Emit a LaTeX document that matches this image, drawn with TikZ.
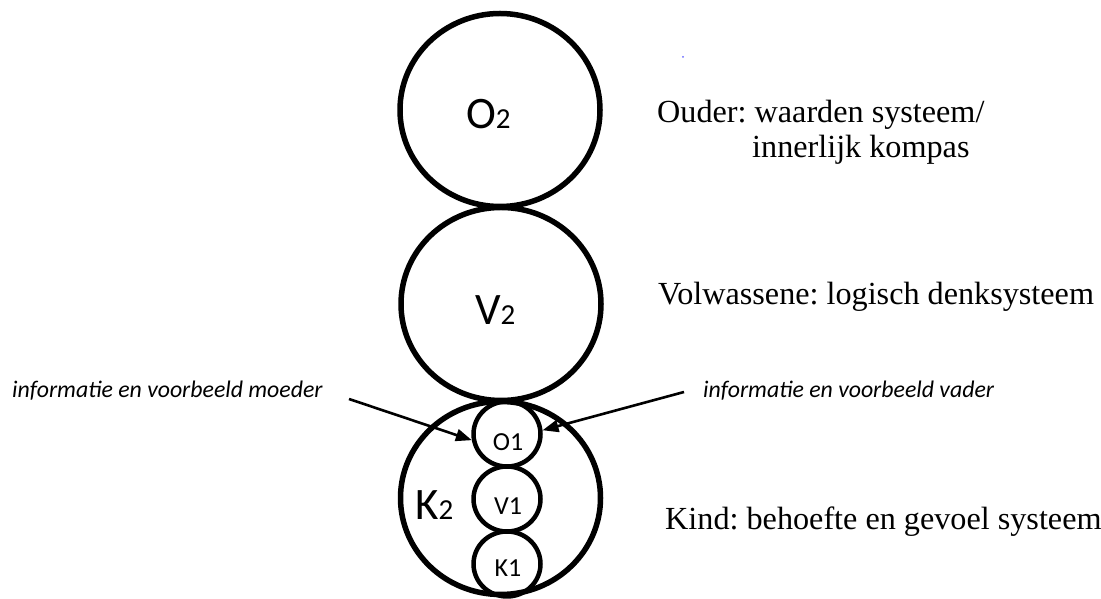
\documentclass[tikz,border=0pt]{standalone}
\usepackage{fontspec}
\usetikzlibrary{shapes.geometric,arrows.meta}
\newfontfamily\tnrfont{Liberation Serif}
\newfontfamily\calfont{Carlito}
\frenchspacing
\begin{document}
\begin{tikzpicture}[x=1pt,y=1pt,
  bigc/.style={ellipse,draw,line width=5.5pt,minimum width=200pt,minimum height=193pt,inner sep=0pt},
  smallc/.style={ellipse,draw,line width=4.5pt,minimum width=67pt,minimum height=65pt,inner sep=0pt},
  biglab/.style={anchor=base west,inner sep=0pt,font=\calfont\fontsize{45}{49}\selectfont},
  smalllab/.style={inner sep=0pt,font=\calfont\fontsize{26}{30}\selectfont},
  desc/.style={anchor=base west,inner sep=0pt,font=\tnrfont\fontsize{32.2}{36}\selectfont},
  info/.style={anchor=base west,inner sep=0pt,font=\calfont\itshape\fontsize{23.8}{28}\selectfont},
  arr/.style={line width=2.6pt,-{Triangle[length=16pt,width=12pt]}}]
\useasboundingbox (0,0) rectangle (1101,599);
% big circles
\node[bigc] (O2) at (500,489) {};
\node[bigc] (V2) at (501,295) {};
\node[bigc] (K2) at (500.5,101) {};
% small circles
\node[smallc] (O1) at (507,165) {};
\node[smallc] (V1) at (507,100) {};
\node[smallc] (K1) at (507,35) {};
% labels
\node[biglab] (lO2) at (466,470) {O{\fontsize{29}{30}\selectfont 2}};
\node[biglab] (lV2) at (475,274) {V{\fontsize{29}{30}\selectfont 2}};
\node[biglab] (lK2) at (415,79) {K{\fontsize{29}{30}\selectfont 2}};
\node[smalllab] (lO1) at (508,157) {O1};
\node[smalllab] (lV1) at (508,93) {V1};
\node[smalllab] (lK1) at (508,31) {K1};
% descriptions
\node[desc] (dO) at (657,476) {Ouder: waarden systeem/};
\node[desc] (dO2) at (752,441) {innerlijk kompas};
\node[desc] (dV) at (658,294) {Volwassene: logisch denksysteem};
\node[desc] (dK) at (665,69) {Kind: behoefte en gevoel systeem};
\node[info] (im) at (12,201) {informatie en voorbeeld moeder};
\node[info] (iv) at (703,201) {informatie en voorbeeld vader};
% arrows
\coordinate (ms) at (349,200);
\coordinate (vs) at (684,207);
\draw[arr] (ms) -- (O1.190);
\draw[arr] (vs) -- (O1.6);
% stray dot
\fill[blue!60] (683,542) circle (1pt);
\end{tikzpicture}
\end{document}
